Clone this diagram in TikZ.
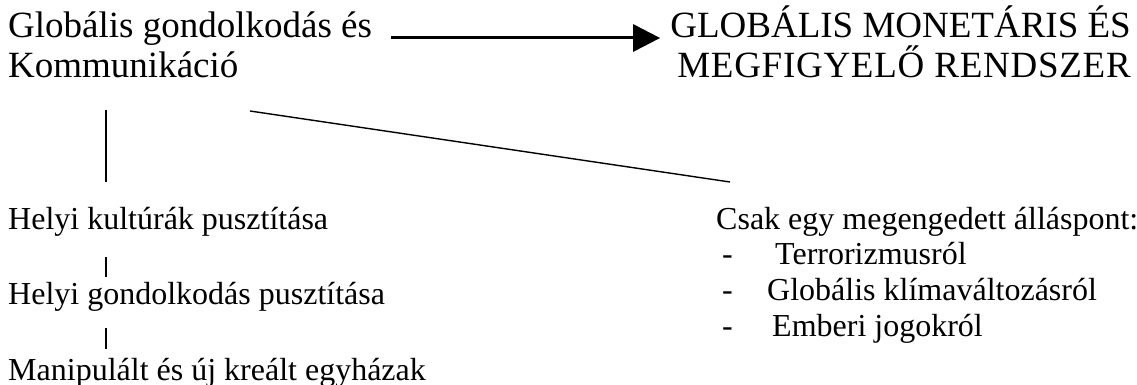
\documentclass[tikz,border=0pt]{standalone}
\usepackage{fontspec}
\setmainfont{Liberation Serif}
\usetikzlibrary{arrows.meta}
\begin{document}
\begin{tikzpicture}[x=1pt,y=-1pt]
  \tikzset{big/.style={inner sep=0,anchor=base west,font=\fontsize{37}{42}\selectfont},
    small/.style={inner sep=0,anchor=base west,font=\fontsize{32}{37}\selectfont},
    arr/.style={line width=3pt,-{Triangle[length=27pt,width=27pt]}},
    thin/.style={line width=1.4pt}};
  \useasboundingbox (0,0) rectangle (1137,385);
  \node[big](Glob) at (8,38){Globális gondolkodás és};
  \node[big](Komm) at (8,78){Kommunikáció};
  \node[big,anchor=base east](Mon) at (1131,38){GLOBÁLIS MONETÁRIS ÉS};
  \node[big,anchor=base east](Megf) at (1131,78){\addfontfeature{LetterSpace=2}MEGFIGYELŐ RENDSZER};
  \node[small](Kult) at (8,229){Helyi kultúrák pusztítása};
  \node[small](Gond) at (8,304){Helyi gondolkodás pusztítása};
  \node[small](Manip) at (8,380){Manipulált és új kreált egyházak};
  \node[small](Csak) at (716,229){Csak egy megengedett álláspont:};
  \node[small](D1) at (722,264){-};
  \node[small](D2) at (722,300){-};
  \node[small](D3) at (722,336){-};
  \node[small](Terr) at (775,264){Terrorizmusról};
  \node[small](Klim) at (767,300){Globális klímaváltozásról};
  \node[small](Jog) at (772,336){Emberi jogokról};
  \draw[arr] ([xshift=19pt]Glob.base east) -- ([xshift=-10pt]Mon.base west);
  \draw[thin] (Komm.base west) ++(98,32) -- ++(0,72);
  \draw[thin] (Komm.base west) ++(242,33) -- ([shift={(14,-47)}]Csak.base west);
  \draw[thin] (Kult.base west) ++(98,28) -- ++(0,20);
  \draw[thin] (Gond.base west) ++(98,24) -- ++(0,21);
\end{tikzpicture}
\end{document}
